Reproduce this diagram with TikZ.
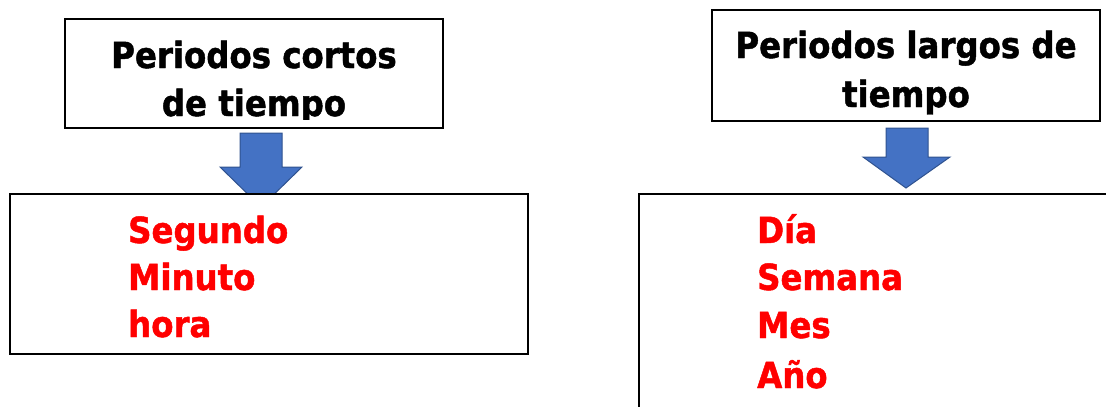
\documentclass[tikz,border=0pt]{standalone}
\usepackage{fontspec}
\newfontfamily\tah[FakeStretch=0.9,BoldFeatures={FakeBold=1.3}]{DejaVu Sans}
\definecolor{arrfill}{HTML}{4472C4}
\definecolor{arrline}{HTML}{2F528F}
\definecolor{itemred}{HTML}{FF0000}
\begin{document}
\begin{tikzpicture}[x=1pt,y=-1pt,
  box/.style={draw=black,line width=1.6pt,fill=white,inner sep=0pt,minimum width=#1},
  blockarrow/.style={fill=arrfill,draw=arrline,line width=1pt,line join=miter},
  head/.style={font=\tah\bfseries\fontsize{36}{48}\selectfont,text=black,anchor=base,align=center},
  item/.style={font=\tah\bfseries\fontsize{36}{48}\selectfont,text=itemred,anchor=base west,inner sep=0pt}]
\useasboundingbox (0,0) rectangle (1106,407);
\clip (0,0) rectangle (1106,407);
% arrows
\draw[blockarrow] (240,133) -- (282,133) -- (282,167) -- (302,167) -- (261,207) -- (220,167) -- (240,167) -- cycle;
\draw[blockarrow] (886,128) -- (928,128) -- (928,157) -- (950,157) -- (906,188) -- (863,157) -- (886,157) -- cycle;
% boxes
\node[box=378pt,minimum height=109pt] (short) at (254,73.5) {};
\node[box=518pt,minimum height=160pt] (shortlist) at (269,274) {};
\node[box=388pt,minimum height=111pt] (long) at (906,65.5) {};
\node[box=481pt,minimum height=226pt] (longlist) at (879.5,307) {};
% headings
\begin{scope}
\clip (66,20) rectangle (442,119);
\node[head] (h1a) at (254,68) {Periodos cortos};
\node[head] (h1b) at (254,116) {de tiempo};
\end{scope}
\node[head] (h2a) at (906,58) {Periodos largos de};
\node[head] (h2b) at (906,107) {tiempo};
% items
\node[item] (i1) at (128,243) {Segundo};
\node[item] (i2) at (128,290) {Minuto};
\node[item] (i3) at (128,337) {hora};
\node[item] (j1) at (757,243) {Día};
\node[item] (j2) at (757,290) {Semana};
\node[item] (j3) at (757,338) {Mes};
\node[item] (j4) at (757,388) {Año};
\end{tikzpicture}
\end{document}
